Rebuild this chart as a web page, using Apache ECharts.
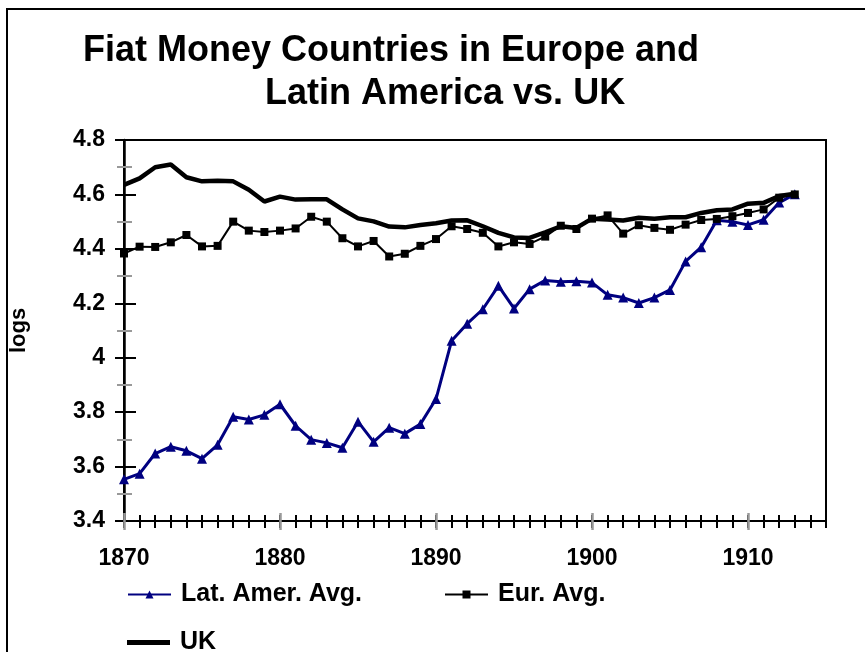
<!DOCTYPE html>
<html>
<head>
<meta charset="utf-8">
<script src="https://cdn.jsdelivr.net/npm/echarts@6/dist/echarts.min.js"></script>
<style>
  html, body { margin: 0; padding: 0; background: #fff; }
  #main { width: 865px; height: 652px; }
</style>
</head>
<body>
<div id="main"></div>
<script>
var myChart = echarts.init(document.getElementById('main'))

var years = [1870, 1871, 1872, 1873, 1874, 1875, 1876, 1877, 1878, 1879,
    1880, 1881, 1882, 1883, 1884, 1885, 1886, 1887, 1888, 1889,
    1890, 1891, 1892, 1893, 1894, 1895, 1896, 1897, 1898, 1899,
    1900, 1901, 1902, 1903, 1904, 1905, 1906, 1907, 1908, 1909,
    1910, 1911, 1912, 1913]

var latAmer = [3.553, 3.574, 3.648, 3.673, 3.658, 3.629, 3.680, 3.783, 3.773, 3.790,
    3.829, 3.750, 3.699, 3.687, 3.669, 3.765, 3.691, 3.743, 3.721, 3.756,
    3.848, 4.062, 4.125, 4.178, 4.264, 4.181, 4.252, 4.284, 4.279, 4.281,
    4.276, 4.231, 4.221, 4.201, 4.221, 4.249, 4.354, 4.406, 4.505, 4.500,
    4.488, 4.507, 4.570, 4.601]

var eurAvg = [4.383, 4.408, 4.407, 4.424, 4.451, 4.409, 4.411, 4.500, 4.467, 4.462,
    4.467, 4.475, 4.518, 4.500, 4.439, 4.409, 4.429, 4.372, 4.382, 4.411,
    4.436, 4.483, 4.473, 4.459, 4.409, 4.424, 4.418, 4.445, 4.485, 4.473,
    4.511, 4.523, 4.456, 4.487, 4.477, 4.470, 4.489, 4.506, 4.510, 4.520,
    4.532, 4.545, 4.588, 4.600]

var uk = [4.635, 4.659, 4.700, 4.710, 4.663, 4.648, 4.650, 4.648, 4.617, 4.574,
    4.592, 4.581, 4.582, 4.582, 4.545, 4.512, 4.501, 4.482, 4.479, 4.488,
    4.494, 4.504, 4.505, 4.483, 4.459, 4.442, 4.440, 4.461, 4.483, 4.477,
    4.511, 4.508, 4.504, 4.514, 4.511, 4.516, 4.516, 4.532, 4.542, 4.545,
    4.566, 4.569, 4.594, 4.603]

var decadeTicks = [1870, 1880, 1890, 1900, 1910]

var FONT = 'Liberation Sans, Arial, sans-serif'

function pairs(vals) {
    return years.map(function (y, i) { return [y, vals[i]] })
}

// shared axis ranges, every x axis stays at the bottom
var xBase = { type: 'value', position: 'bottom', min: 1870, max: 1915, interval: 1, splitLine: { show: false } }
var yBase = { type: 'value', position: 'left', min: 3.4, max: 4.8, interval: 0.2, splitLine: { show: false } }

var legendText = { fontFamily: FONT, fontWeight: 'bold', fontSize: 25, color: '#000', padding: [0, 0, 0, 5] }

option = {
    animation: false,
    backgroundColor: '#fff',
    title: [{
        text: 'Fiat Money Countries in Europe and',
        left: 83, top: 33, padding: 0,
        textStyle: { fontFamily: FONT, fontWeight: 'bold', fontSize: 36, color: '#000' }
    }, {
        text: 'Latin America vs. UK',
        left: 265, top: 76, padding: 0,
        textStyle: { fontFamily: FONT, fontWeight: 'bold', fontSize: 36, color: '#000' }
    }],
    graphic: [{
        type: 'rect',
        shape: { x: 7, y: 9, width: 1000, height: 1000 },
        style: { fill: 'none', stroke: '#000', lineWidth: 2 },
        silent: true
    }],
    grid: {
        left: 120, right: 39, top: 140, bottom: 131,
        show: true, borderColor: '#000', borderWidth: 2
    },
    legend: [{
        data: ['Lat. Amer. Avg.'], left: 127, top: 582, padding: 0,
        itemWidth: 43, itemHeight: 10, textStyle: legendText
    }, {
        data: ['Eur. Avg.'], left: 444, top: 582, padding: 0,
        itemWidth: 43, itemHeight: 10, textStyle: legendText
    }, {
        data: [{ name: 'UK', icon: 'rect' }], left: 127, top: 630, padding: 0,
        itemWidth: 43, itemHeight: 5, textStyle: legendText
    }],
    xAxis: [
        // annual ticks, outside part
        Object.assign({}, xBase, {
            axisLine: { lineStyle: { color: '#000', width: 2 } },
            axisTick: { length: 7, lineStyle: { color: '#000', width: 2 } },
            axisLabel: { show: false }
        }),
        // annual ticks, inside part
        Object.assign({}, xBase, {
            axisLine: { show: false },
            axisTick: { inside: true, length: 6, lineStyle: { color: '#000', width: 2 } },
            axisLabel: { show: false }
        }),
        // decade ticks (grey) + labels
        Object.assign({}, xBase, {
            axisLine: { show: false },
            axisTick: { length: 9, customValues: decadeTicks, lineStyle: { color: '#999', width: 2.5 } },
            axisLabel: {
                customValues: decadeTicks, margin: 26,
                formatter: function (v) { return String(v) },
                fontFamily: FONT, fontWeight: 'bold', fontSize: 23, color: '#000'
            }
        }),
        Object.assign({}, xBase, {
            axisLine: { show: false },
            axisTick: { inside: true, length: 8, customValues: decadeTicks, lineStyle: { color: '#999', width: 2.5 } },
            axisLabel: { show: false }
        })
    ],
    yAxis: [
        Object.assign({}, yBase, {
            name: 'logs',
            nameLocation: 'middle',
            nameGap: 94,
            nameTextStyle: { fontFamily: FONT, fontWeight: 'bold', fontSize: 22, color: '#000' },
            axisLine: { lineStyle: { color: '#000', width: 2.5 } },
            axisTick: { length: 9, lineStyle: { color: '#000', width: 2 } },
            minorTick: { show: true, splitNumber: 2, length: 7, lineStyle: { color: '#999', width: 2 } },
            axisLabel: { margin: 19, fontFamily: FONT, fontWeight: 'bold', fontSize: 23, color: '#000' }
        }),
        Object.assign({}, yBase, {
            axisLine: { show: false },
            axisTick: { inside: true, length: 12, lineStyle: { color: '#000', width: 2 } },
            minorTick: { show: true, splitNumber: 2, length: 8, lineStyle: { color: '#999', width: 2 } },
            axisLabel: { show: false }
        })
    ],
    series: [{
        name: 'Lat. Amer. Avg.',
        type: 'line',
        data: pairs(latAmer),
        symbol: 'triangle',
        symbolSize: 10,
        color: '#000080',
        lineStyle: { color: '#000080', width: 3 },
        itemStyle: { color: '#000080' }
    }, {
        name: 'Eur. Avg.',
        type: 'line',
        data: pairs(eurAvg),
        symbol: 'rect',
        symbolSize: 8,
        color: '#000',
        lineStyle: { color: '#000', width: 2 },
        itemStyle: { color: '#000' }
    }, {
        name: 'UK',
        type: 'line',
        data: pairs(uk),
        symbol: 'none',
        color: '#000',
        lineStyle: { color: '#000', width: 4.5 }
    }]
};

myChart.setOption(option);
</script>
</body>
</html>
